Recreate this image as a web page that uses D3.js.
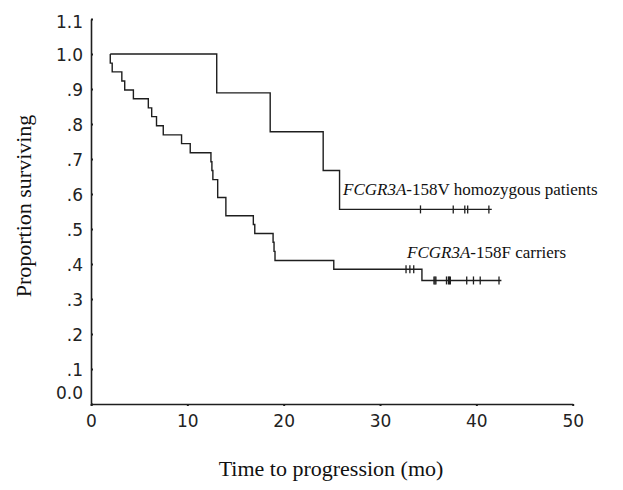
<!DOCTYPE html>
<html>
<head>
<meta charset="utf-8">
<script src="https://cdn.jsdelivr.net/npm/d3@7"></script>
<style>
  html, body { margin: 0; padding: 0; background: #fff; }
  svg { display: block; }
</style>
</head>
<body>
<svg id="chart" width="623" height="490"></svg>
<script>
// Kaplan–Meier progression-free curves by FCGR3A-158 genotype

// Axis ticks
const xTickValues = [0, 10, 20, 30, 40, 50];
const yTickValues = [0, 0.1, 0.2, 0.3, 0.4, 0.5, 0.6, 0.7, 0.8, 0.9, 1.0, 1.1];
const yTickLabels = ["0.0", ".1", ".2", ".3", ".4", ".5", ".6", ".7", ".8", ".9", "1.0", "1.1"];

// 158V homozygous patients (n = 9): event times (mo) and survival after each event
const vStart = 2.0;
const vEventTimes = [13.05, 18.6, 24.1, 25.8];
const vSurvival = [0.889, 0.778, 0.667, 0.556];
const vCensorTimes = [34.2, 37.6, 38.8, 39.1, 41.3];
const vEnd = 41.6;

// 158F carriers (n = 39)
const fStart = 2.0;
const fEventTimes = [2.0, 2.2, 3.2, 3.5, 4.4, 5.95, 6.3, 6.8, 7.5, 9.4, 10.3,
  12.45, 12.55, 12.65, 13.15, 14.0, 16.85, 17.0, 18.9, 19.0, 19.1, 25.2, 34.35];
const fSurvival = [0.974, 0.949, 0.923, 0.897, 0.872, 0.846, 0.821, 0.795, 0.769, 0.744, 0.718,
  0.692, 0.667, 0.641, 0.590, 0.538, 0.513, 0.487, 0.462, 0.436, 0.410, 0.385, 0.353];
const fCensorTimes = [32.7, 33.1, 33.5, 35.6, 35.7, 35.8, 36.9, 37.1, 37.2, 37.3, 39.0, 39.7, 40.4, 42.35];
const fEnd = 42.6;

const seriesLabels = ["FCGR3A", "-158V homozygous patients", "-158F carriers"];

const ink = "#1e1e1e";
const svg = d3.select("#chart");

const x = d3.scaleLinear().domain([0, 50]).range([91, 572.7]);
const y = d3.scaleLinear().domain([0, 1.1]).range([404, 19]);

// Axes
const xAxis = d3.axisBottom(x).tickValues(xTickValues).tickSize(2).tickPadding(9)
  .tickSizeOuter(0).tickFormat(d3.format("d"));
const gx = svg.append("g").attr("transform", `translate(0,${y(0)})`).call(xAxis);

const yAxis = d3.axisLeft(y).tickValues(yTickValues).tickSize(-2).tickPadding(8)
  .tickSizeOuter(0).tickFormat((d, i) => yTickLabels[i]);
const gy = svg.append("g").attr("transform", `translate(${x(0)},0)`).call(yAxis);

[gx, gy].forEach(g => {
  g.select(".domain").attr("stroke", ink).attr("stroke-width", 1.6);
  g.selectAll(".tick line").attr("stroke", ink).attr("stroke-width", 2);
  g.selectAll(".tick text")
    .attr("fill", "#222")
    .style("font-family", "'DejaVu Sans', Verdana, sans-serif")
    .style("font-size", "17px");
});
gy.selectAll(".tick text").attr("x", -8).attr("dy", "0.36em");
// bottom and top labels sit slightly off their ticks
gy.selectAll(".tick text").filter(d => d === 0).attr("dy", "-0.33em");
gy.selectAll(".tick text").filter(d => d === 1.1).attr("dy", "0.5em");

// Step curves
const stepLine = d3.line().x(d => x(d[0])).y(d => y(d[1])).curve(d3.curveStepAfter);

function stepPoints(start, times, surv, end) {
  const pts = [[start, 1]];
  times.forEach((t, i) => pts.push([t, surv[i]]));
  pts.push([end, surv[surv.length - 1]]);
  return pts;
}
function levelAt(t, start, times, surv) {
  let s = 1;
  times.forEach((et, i) => { if (et <= t) s = surv[i]; });
  return s;
}

const curves = [
  { start: vStart, times: vEventTimes, surv: vSurvival, censor: vCensorTimes, end: vEnd },
  { start: fStart, times: fEventTimes, surv: fSurvival, censor: fCensorTimes, end: fEnd }
];

curves.forEach(c => {
  svg.append("path")
    .datum(stepPoints(c.start, c.times, c.surv, c.end))
    .attr("d", stepLine)
    .attr("fill", "none")
    .attr("stroke", ink)
    .attr("stroke-width", 1.4);

  svg.append("g").selectAll("line")
    .data(c.censor)
    .join("line")
    .attr("x1", d => x(d)).attr("x2", d => x(d))
    .attr("y1", d => y(levelAt(d, c.start, c.times, c.surv)) - 4)
    .attr("y2", d => y(levelAt(d, c.start, c.times, c.surv)) + 4)
    .attr("stroke", ink)
    .attr("stroke-width", 1.3);
});

// Curve annotations
const serif = "'Liberation Serif', 'Times New Roman', serif";
function annotate(px, py, suffix) {
  const t = svg.append("text")
    .attr("x", px).attr("y", py)
    .attr("fill", "#111")
    .style("font-family", serif)
    .style("font-size", "17px");
  t.append("tspan").style("font-style", "italic").text(seriesLabels[0]);
  t.append("tspan").text(suffix);
}
annotate(343, 195, seriesLabels[1]);
annotate(407, 258, seriesLabels[2]);

// Axis titles
svg.append("text")
  .attr("x", 331).attr("y", 476)
  .attr("text-anchor", "middle")
  .attr("fill", "#111")
  .style("font-family", serif)
  .style("font-size", "22px")
  .text("Time to progression (mo)");

svg.append("text")
  .attr("transform", "translate(31,206) rotate(-90)")
  .attr("text-anchor", "middle")
  .attr("fill", "#111")
  .style("font-family", serif)
  .style("font-size", "22px")
  .text("Proportion surviving");
</script>
</body>
</html>
